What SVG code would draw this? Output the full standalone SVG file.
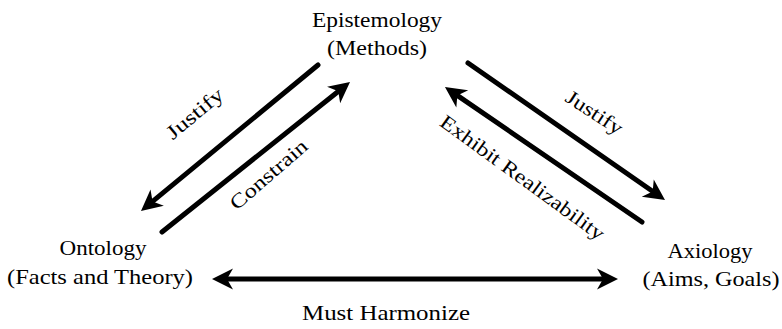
<svg xmlns="http://www.w3.org/2000/svg" width="782" height="329" viewBox="0 0 782 329">
<style>
text{font-family:"Liberation Serif","Times New Roman",serif;fill:#000;}
.n{font-size:22px;text-anchor:middle;}
.l{font-size:20px;text-anchor:middle;}
.c{stroke:#000;stroke-width:5;fill:none;stroke-linecap:round;}
</style>
<defs>
<marker id="ah" markerUnits="userSpaceOnUse" viewBox="-13 -12 26 24" markerWidth="26" markerHeight="24" refX="0" refY="0" orient="auto-start-reverse">
<path d="M10,0 L-11,-10.5 L-5,0 L-11,10.5 Z" fill="#000"/>
</marker>
</defs>
<rect width="782" height="329" fill="#fff"/>
<g id="connectors">
<line class="c" x1="318" y1="65" x2="148.7" y2="204.6" marker-end="url(#ah)"/>
<line class="c" x1="162" y1="232" x2="342.2" y2="88.2" marker-end="url(#ah)"/>
<line class="c" x1="468" y1="63" x2="656.8" y2="194.3" marker-end="url(#ah)"/>
<line class="c" x1="642" y1="222" x2="453.2" y2="92.6" marker-end="url(#ah)"/>
<line class="c" x1="222" y1="279" x2="608" y2="279" stroke-width="4.5" marker-start="url(#ah)" marker-end="url(#ah)"/>
<text class="l" transform="translate(195,114) rotate(-40)" y="6" textLength="68" lengthAdjust="spacingAndGlyphs">Justify</text>
<text class="l" transform="translate(269,175) rotate(-41)" y="6" textLength="96" lengthAdjust="spacingAndGlyphs">Constrain</text>
<text class="l" transform="translate(594,113) rotate(33)" y="6" textLength="64" lengthAdjust="spacingAndGlyphs">Justify</text>
<text class="l" transform="translate(522,178) rotate(36)" y="6" textLength="198" lengthAdjust="spacingAndGlyphs">Exhibit  Realizability</text>
<text class="n" x="386" y="320" textLength="168" lengthAdjust="spacingAndGlyphs">Must  Harmonize</text>
</g>
<g id="epistemology">
<text class="n" x="377" y="27" textLength="130" lengthAdjust="spacingAndGlyphs">Epistemology</text>
<text class="n" x="377" y="55" textLength="100" lengthAdjust="spacingAndGlyphs">(Methods)</text>
</g>
<g id="ontology">
<text class="n" x="103" y="255" textLength="87" lengthAdjust="spacingAndGlyphs">Ontology</text>
<text class="n" x="100" y="284" textLength="186" lengthAdjust="spacingAndGlyphs">(Facts and Theory)</text>
</g>
<g id="axiology">
<text class="n" x="710" y="258" textLength="85" lengthAdjust="spacingAndGlyphs">Axiology</text>
<text class="n" x="711" y="286" textLength="137" lengthAdjust="spacingAndGlyphs">(Aims, Goals)</text>
</g>
</svg>
